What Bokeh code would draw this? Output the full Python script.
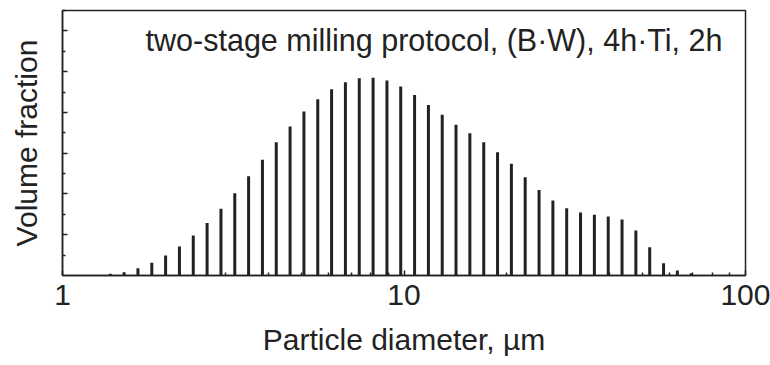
from bokeh.plotting import figure
from bokeh.models import FixedTicker, Label, ColumnDataSource, BasicTickFormatter, CustomJSTickFormatter
from bokeh.embed import file_html
from bokeh.resources import INLINE

# Particle diameter bin centres (µm) and volume fraction (arbitrary units)
diameter_um = [1.380, 1.515, 1.663, 1.826, 2.004, 2.200, 2.415, 2.651, 2.911, 3.195,
               3.507, 3.850, 4.226, 4.639, 5.093, 5.591, 6.137, 6.737, 7.396, 8.119,
               8.913, 9.781, 10.74, 11.79, 12.94, 14.20, 15.59, 17.12, 18.79, 20.63,
               22.64, 24.86, 27.29, 29.95, 32.88, 36.10, 39.63, 43.50, 47.75, 52.42,
               57.55, 63.17, 69.35]
volume = [0.08, 0.16, 0.36, 0.62, 0.98, 1.42, 1.96, 2.57, 3.27, 4.04,
          4.87, 5.68, 6.54, 7.31, 8.05, 8.65, 9.14, 9.48, 9.68, 9.70,
          9.57, 9.27, 8.86, 8.37, 7.88, 7.39, 6.98, 6.54, 6.05, 5.48,
          4.82, 4.20, 3.68, 3.30, 3.09, 2.98, 2.89, 2.75, 2.21, 1.39,
          0.60, 0.25, 0.11]

x_major_ticks = [1, 10, 100]
x_minor_ticks = [2, 3, 4, 5, 6, 7, 8, 9, 20, 30, 40, 50, 60, 70, 80, 90]
x_tick_labels = {1: "1", 10: "10", 100: "100"}
y_major_ticks = [2, 4, 6, 8, 10, 12]
y_minor_ticks = [1, 3, 5, 7, 9, 11, 13]

title_text = "two-stage milling protocol, (B\u00b7W), 4h\u00b7Ti, 2h"
x_label = "Particle diameter, \u00b5m"
y_label = "Volume fraction"

FONT = "Liberation Sans"
INK = "#222222"

source = ColumnDataSource(data=dict(
    d=diameter_um,
    v=volume,
    base=[0.0] * len(volume),
))

p = figure(frame_width=683, frame_height=265, x_axis_type="log",
           x_range=(1, 100), y_range=(0, 13),
           output_backend="svg", toolbar_location=None,
           min_border_left=62, min_border_right=25,
           min_border_top=10, min_border_bottom=80)

p.segment(x0="d", y0="base", x1="d", y1="v", source=source,
          line_width=3, line_color=INK, line_cap="butt")

p.xgrid.visible = False
p.ygrid.visible = False
p.background_fill_color = "white"
p.border_fill_color = "white"
p.outline_line_color = INK
p.outline_line_width = 1.5

# x axis
xa = p.xaxis[0]
xa.ticker = FixedTicker(ticks=x_major_ticks, minor_ticks=x_minor_ticks)
xa.formatter = BasicTickFormatter()
xa.major_label_overrides = x_tick_labels
xa.axis_line_color = INK
xa.axis_line_width = 1.5
xa.major_tick_in = 5
xa.major_tick_out = 0
xa.minor_tick_in = 3
xa.minor_tick_out = 0
xa.major_tick_line_color = INK
xa.minor_tick_line_color = INK
xa.major_tick_line_width = 1.5
xa.minor_tick_line_width = 1.5
xa.major_label_text_font = FONT
xa.major_label_text_font_size = "30px"
xa.major_label_text_color = INK
xa.major_label_standoff = 9
xa.axis_label = x_label
xa.axis_label_text_font = FONT
xa.axis_label_text_font_size = "30px"
xa.axis_label_text_font_style = "normal"
xa.axis_label_text_color = INK
xa.axis_label_standoff = 15

# y axis
ya = p.yaxis[0]
ya.ticker = FixedTicker(ticks=y_major_ticks, minor_ticks=y_minor_ticks)
ya.formatter = CustomJSTickFormatter(code="return ''")
ya.axis_line_color = INK
ya.axis_line_width = 1.5
ya.major_tick_in = 5
ya.major_tick_out = 0
ya.minor_tick_in = 3
ya.minor_tick_out = 0
ya.major_tick_line_color = INK
ya.minor_tick_line_color = INK
ya.major_tick_line_width = 1.5
ya.minor_tick_line_width = 1.5
ya.major_label_standoff = 0
ya.axis_label = y_label
ya.axis_label_text_font = FONT
ya.axis_label_text_font_size = "30px"
ya.axis_label_text_font_style = "normal"
ya.axis_label_text_color = INK
ya.axis_label_standoff = 20

p.add_layout(Label(x=85.6, y=11.55, text=title_text,
                   text_align="right", text_baseline="alphabetic",
                   text_font=FONT, text_font_size="30.5px", text_color=INK))

open("out.html", "w").write(file_html(p, INLINE))
